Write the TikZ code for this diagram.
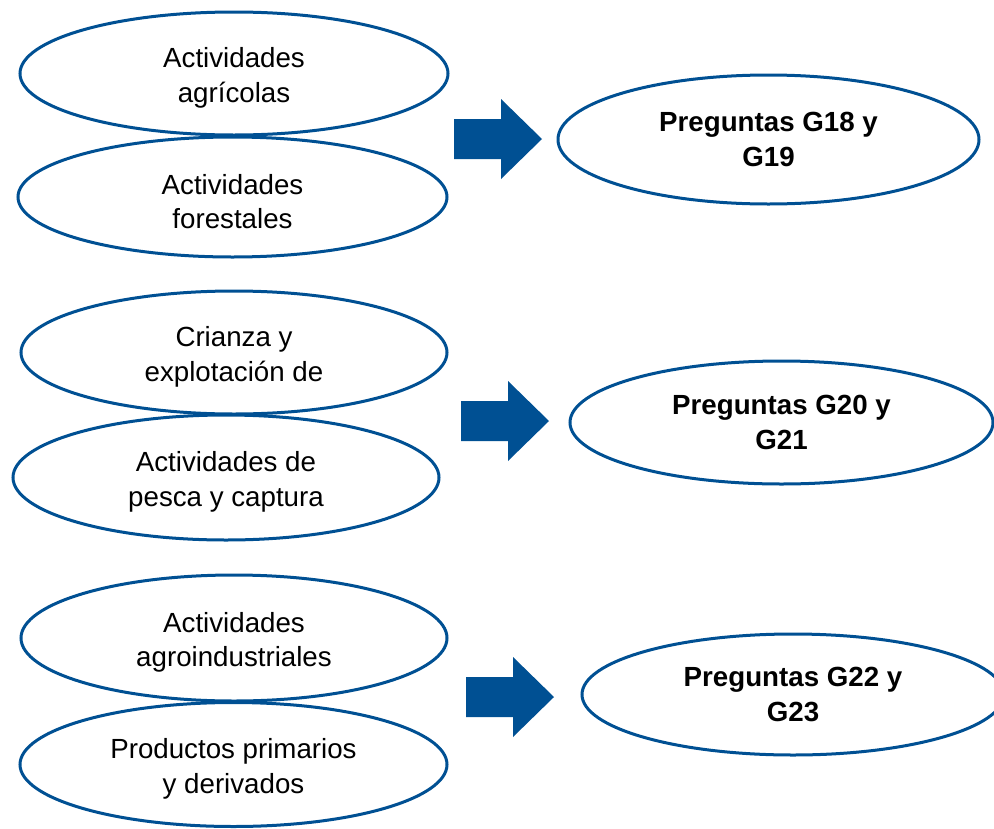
\documentclass[tikz,border=0pt]{standalone}
\usepackage{fontspec}
\setmainfont{Liberation Sans}
\usetikzlibrary{shapes.geometric}
\definecolor{dblue}{RGB}{0,80,147}
\tikzset{
  oval/.style={ellipse, draw=dblue, line width=3pt, fill=white, inner sep=0pt},
  lbl/.style={align=center, font=\fontsize{27.7}{34.5}\selectfont, text=black, yshift=-4.5pt, inner sep=0pt},
  qoval/.style={oval, align=center, font=\fontsize{27.7}{35}\selectfont\bfseries, text=black},
  blockarrow/.style={fill=dblue}
}
\newcommand\myarrow[1]{%
  \fill[blockarrow] (#1) ++(0,-20) -- ++(47,0) -- ++(0,-20) -- ++(41,40)
    -- ++(-41,40) -- ++(0,-20) -- ++(-47,0) -- cycle;}
\begin{document}
\begin{tikzpicture}[x=1pt,y=-1pt]
\useasboundingbox (0,0) rectangle (994,828);
% row 1
\node[oval, minimum width=428pt, minimum height=123pt,
  label={[lbl]center:{Actividades\\agrícolas}}] (e1) at (234,73.5) {};
\node[oval, minimum width=429pt, minimum height=120pt,
  label={[lbl]center:{Actividades\\forestales}}] (e2) at (232.5,197) {};
\node[qoval, minimum width=421pt, minimum height=129pt] (r1) at (768.5,139.5) {Preguntas G18 y\\G19};
\coordinate (a1) at (454,139);
\myarrow{a1}
% row 2
\node[oval, minimum width=426pt, minimum height=123pt,
  label={[lbl]center:{Crianza y\\explotación de}}] (e3) at (234,352.5) {};
\node[oval, minimum width=426pt, minimum height=125pt,
  label={[lbl]center:{Actividades de\\pesca y captura}}] (e4) at (226,477.5) {};
\node[qoval, minimum width=423pt, minimum height=123pt] (r2) at (781.5,422.5) {Preguntas G20 y\\G21};
\coordinate (a2) at (461,421);
\myarrow{a2}
% row 3
\node[oval, minimum width=426pt, minimum height=126pt,
  label={[lbl]center:{Actividades\\agroindustriales}}] (e5) at (234,638) {};
\node[oval, minimum width=427pt, minimum height=124pt,
  label={[lbl]center:{Productos primarios\\y derivados}}] (e6) at (233.5,764.5) {};
\node[qoval, minimum width=422pt, minimum height=121pt] (r3) at (793,694.5) {Preguntas G22 y\\G23};
\coordinate (a3) at (466,697);
\myarrow{a3}
\end{tikzpicture}
\end{document}
